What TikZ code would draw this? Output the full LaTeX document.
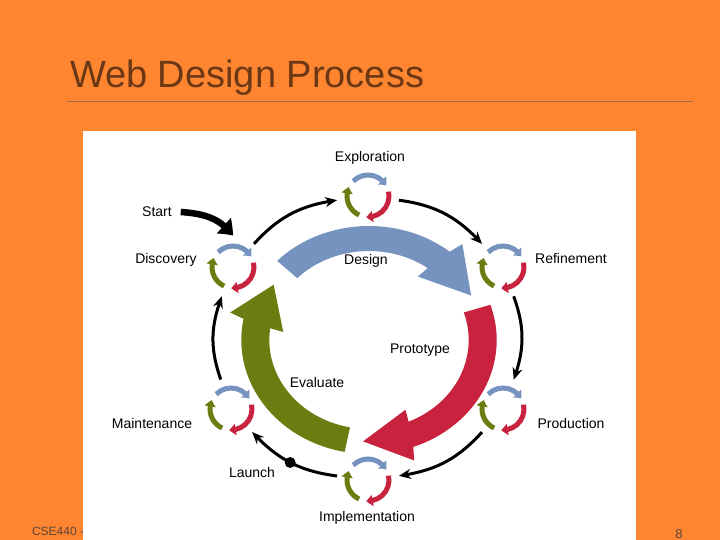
\documentclass[tikz,border=0pt]{standalone}
\usepackage{fontspec}
\setmainfont{Liberation Sans}
\usetikzlibrary{arrows.meta,bending}

\definecolor{slidecolor}{rgb}{1.000000, 0.521569, 0.192157}
\definecolor{titlecolor}{rgb}{0.419608, 0.215686, 0.078431}
\definecolor{rulecolor}{rgb}{0.640000, 0.430000, 0.270000}
\definecolor{footcolor}{rgb}{0.360000, 0.270000, 0.220000}
\definecolor{designcolor}{rgb}{0.462745, 0.572549, 0.745098}
\definecolor{protocolor}{rgb}{0.784314, 0.133333, 0.243137}
\definecolor{evalcolor}{rgb}{0.423529, 0.486275, 0.062745}

\tikzset{
  steplabel/.style={anchor=base, inner sep=0pt, outer sep=0pt, font=\fontsize{14}{16}\selectfont},
  iconnode/.style={circle, minimum size=62pt, inner sep=0pt, draw=none},
  iconarc/.style={line width=5pt, -{Triangle[length=6.5pt,width=11pt,bend]}},
  cyclearrow/.style={line width=3pt, -{Stealth[length=12pt,width=10pt,bend]}, bend left=20},
  startarrow/.style={line width=6.5pt, -{Triangle[length=14pt,width=20pt,bend]}, shorten <=9pt},
  launchdot/.style={circle, fill=black, minimum size=11pt, inner sep=0pt},
}

% small three-colour cycle: name, x, y
\newcommand{\cycleicon}[3]{%
  \node[iconnode] (#1) at (#2,#3) {};
  \draw[iconarc, designcolor] ([shift={(-135:21)}]#1.center) arc[start angle=-135, end angle=-30, radius=21];
  \draw[iconarc, protocolor] ([shift={(-12:21)}]#1.center) arc[start angle=-12, end angle=95, radius=21];
  \draw[iconarc, evalcolor] ([shift={(115:21)}]#1.center) arc[start angle=115, end angle=205, radius=21];
}

% fat phase arrow: colour, tail angle, head base angle, tip angle
\newcommand{\phasearrow}[4]{%
  \fill[#1] (#2:114) arc[start angle=#2, end angle=#3+4.7, radius=114]
    -- (#3+6.5:127) -- (#4:101.5) -- (#3:77) -- (#3+1.6:89)
    arc[start angle=#3+1.6, end angle=#2, radius=89] -- cycle;
}

\begin{document}
\begin{tikzpicture}[x=1pt, y=-1pt]
\fill[slidecolor] (0,0) rectangle (720,540);
\useasboundingbox (0,0) rectangle (720,540);

% slide frame
\node[anchor=base west, inner sep=0pt, outer sep=0pt, text=titlecolor, font=\fontsize{38}{40}\selectfont] (title) at (70,88) {Web Design Process};
\draw[rulecolor, line width=1pt] (67,102) -- (693,102);
\node[anchor=base west, inner sep=0pt, outer sep=0pt, text=footcolor, font=\fontsize{12}{14}\selectfont] (course) at (32,535) {CSE440 -};
\node[anchor=base, inner sep=0pt, outer sep=0pt, text=footcolor, font=\fontsize{13}{15}\selectfont] (pageno) at (679,538) {8};
\fill[white] (83,131) rectangle (636,540);

% inner phases
\begin{scope}[shift={(369,340)}, xscale=1.12]
\phasearrow{designcolor}{-136}{-55.5}{-26}
\phasearrow{protocolor}{-18}{65}{93}
\phasearrow{evalcolor}{101}{186}{213}
\end{scope}
\node[steplabel] (design) at (366,264) {Design};
\node[steplabel] (prototype) at (420,353) {Prototype};
\node[steplabel] (evaluate) at (317,387) {Evaluate};

% outer steps
\cycleicon{expl}{368}{196}
\cycleicon{refi}{503}{267}
\cycleicon{prod}{503}{409}
\cycleicon{impl}{368}{480}
\cycleicon{maint}{231}{409}
\cycleicon{disc}{233}{267}

\node[steplabel] (explorationlabel) at (370,162) {Exploration};
\node[steplabel] (refinementlabel) at (571,263) {Refinement};
\node[steplabel] (productionlabel) at (571,428) {Production};
\node[steplabel] (implementationlabel) at (367,521) {Implementation};
\node[steplabel] (maintenancelabel) at (152,428) {Maintenance};
\node[steplabel] (discoverylabel) at (166,263) {Discovery};
\node[steplabel] (launchlabel) at (252,477) {Launch};
\node[steplabel] (start) at (157,216) {Start};

\draw[cyclearrow] (disc) to (expl);
\draw[cyclearrow] (expl) to (refi);
\draw[cyclearrow] (refi) to (prod);
\draw[cyclearrow] (prod) to (impl);
\draw[cyclearrow] (impl) to node[launchdot] (launch) {} (maint);
\draw[cyclearrow] (maint) to (disc);

\draw[startarrow] (start.east) to[out=-5, in=125] (disc.north);
\end{tikzpicture}
\end{document}
